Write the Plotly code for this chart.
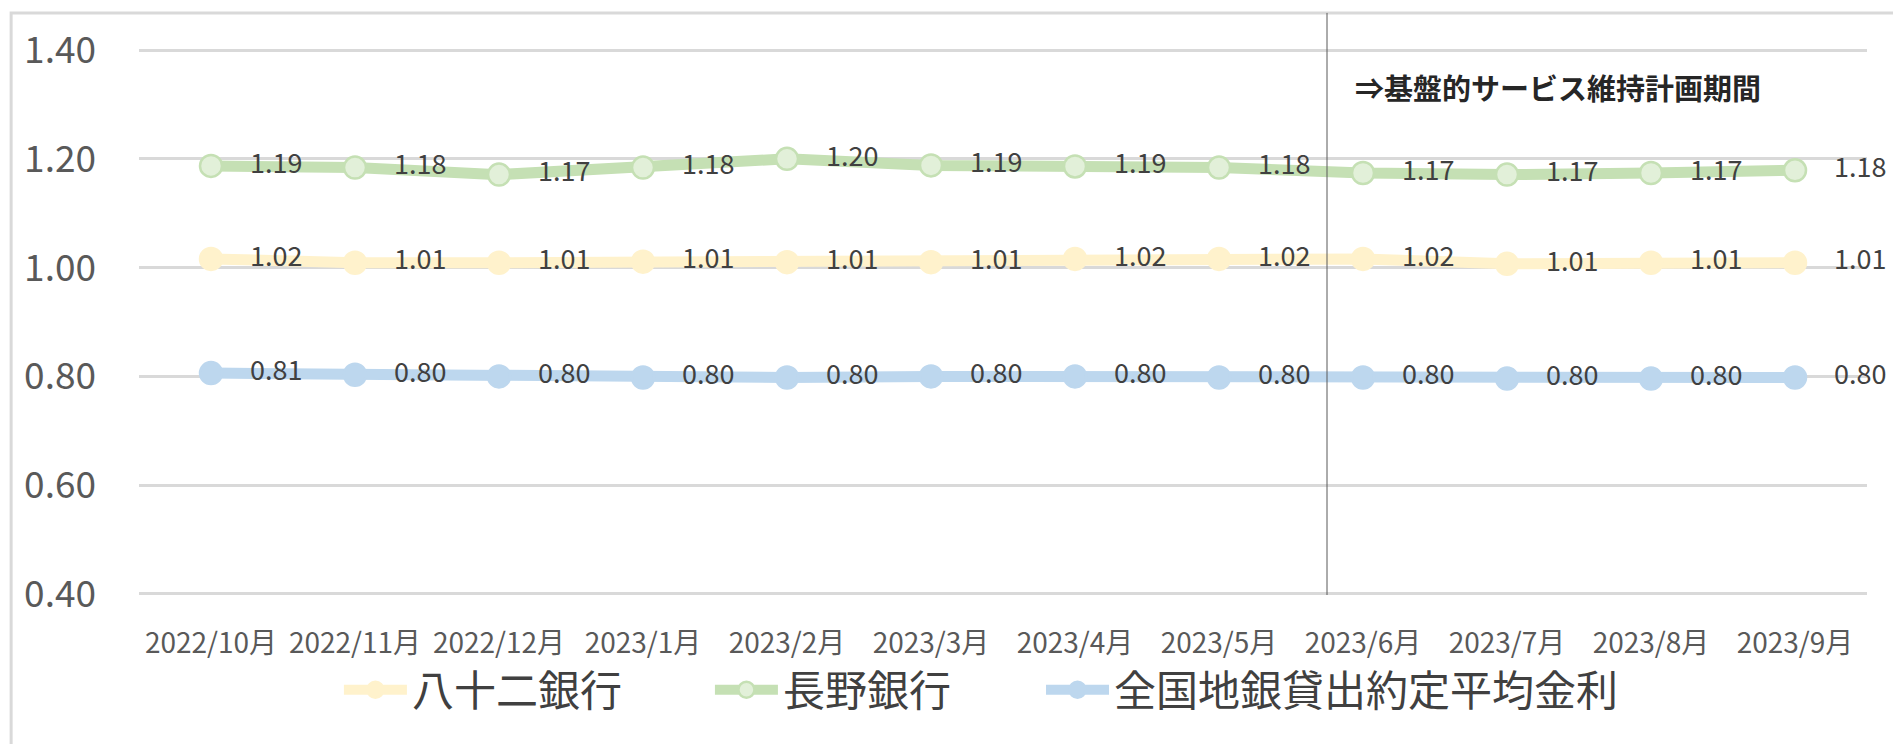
import plotly.graph_objects as go

# data
months = ['2022/10月', '2022/11月', '2022/12月', '2023/1月', '2023/2月', '2023/3月',
          '2023/4月', '2023/5月', '2023/6月', '2023/7月', '2023/8月', '2023/9月']
hachijuni = [1.016, 1.009, 1.009, 1.011, 1.010, 1.010, 1.016, 1.016, 1.016, 1.007, 1.009, 1.009]
nagano = [1.187, 1.184, 1.171, 1.184, 1.200, 1.188, 1.186, 1.184, 1.174, 1.171, 1.174, 1.179]
zenkoku = [0.806, 0.803, 0.800, 0.798, 0.798, 0.800, 0.800, 0.798, 0.798, 0.796, 0.796, 0.798]

series_names = ['八十二銀行', '長野銀行', '全国地銀貸出約定平均金利']
y_ticks = [0.4, 0.6, 0.8, 1.0, 1.2, 1.4]
plan_start = 7.75   # vertical divider between 2023/5 and 2023/6
plan_label = '⇒基盤的サービス維持計画期間'

FONT = 'Noto Sans CJK JP'
pad = '\u00a0' * 4

fig = go.Figure()

styles = [
    dict(line='#FFF2CC', fill='#FFF2CC', edge='#FFF2CC'),
    dict(line='#C5E0B4', fill='#E2F0D9', edge='#C5E0B4'),
    dict(line='#BDD7EE', fill='#BDD7EE', edge='#BDD7EE'),
]
legend_ids = ['legend', 'legend2', 'legend3']
legend_x = [0.1157, 0.3304, 0.5220]

for name, vals, st, lg in zip(series_names, [hachijuni, nagano, zenkoku], styles, legend_ids):
    fig.add_trace(go.Scatter(
        x=months, y=vals, name=name, legend=lg,
        mode='lines+markers+text',
        line=dict(color=st['line'], width=11),
        marker=dict(size=22, color=st['fill'], line=dict(color=st['edge'], width=2.5)),
        texttemplate=pad + '%{y:.2f}',
        textposition='middle right',
        textfont=dict(family=FONT, size=27, color='#404040'),
        cliponaxis=False,
    ))

# vertical divider and label for the plan period
fig.add_shape(type='line', xref='x', yref='paper', x0=plan_start, x1=plan_start,
              y0=0, y1=1.066, line=dict(color='#595959', width=1))
fig.add_annotation(x=plan_start + 0.18, y=1.333, xref='x', yref='y', text='<b>' + plan_label + '</b>',
                   showarrow=False, xanchor='left', yanchor='middle',
                   font=dict(family=FONT, size=29, color='#262626'))

# outer chart frame
fig.add_shape(type='rect', xref='paper', yref='paper', x0=-0.074, x1=1.0175, y0=-0.32, y1=1.066,
              line=dict(color='#D9D9D9', width=3), layer='below')

legend_style = dict(orientation='h', xanchor='left', y=-0.174, yanchor='middle',
                    font=dict(family=FONT, size=42, color='#404040'), itemwidth=63,
                    bgcolor='rgba(0,0,0,0)')

# page body has an 8px margin, so the figure is sized to fit inside the window
fig.update_layout(
    width=1893, height=736,
    margin=dict(l=131, r=34, t=37, b=149),
    paper_bgcolor='white', plot_bgcolor='white',
    showlegend=True,
    xaxis=dict(range=[-0.5, 11.5], showgrid=False, showline=False, zeroline=False,
               tickfont=dict(family=FONT, size=28, color='#595959'), ticklabelstandoff=29),
    yaxis=dict(range=[0.398, 1.402], tickvals=y_ticks, tickformat='.2f', showline=False, zeroline=False,
               gridcolor='#D9D9D9', gridwidth=3,
               tickfont=dict(family=FONT, size=37, color='#595959'), ticklabelstandoff=42),
)
for lg, lx in zip(legend_ids, legend_x):
    fig.update_layout({lg: dict(legend_style, x=lx)})

fig.write_html("out.html")
print("completed")
